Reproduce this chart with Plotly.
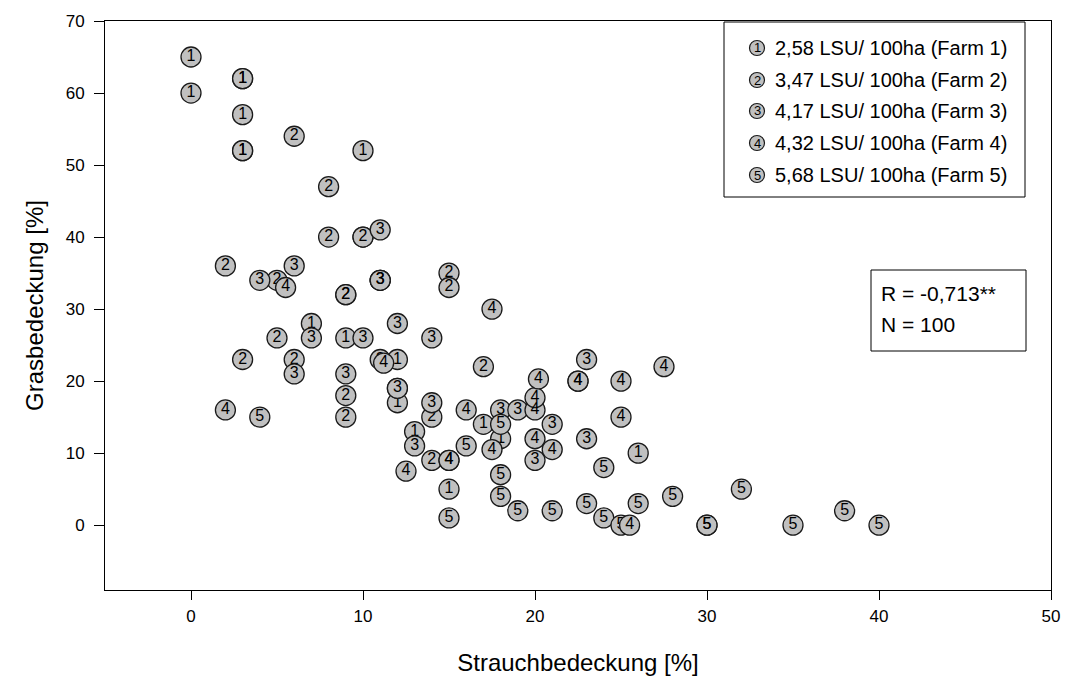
import plotly.graph_objects as go

# ---- data ----
farm1_x = [0, 0, 3, 3, 3, 3, 3, 10, 10, 11, 7, 9, 12, 12, 13, 17, 18, 15, 26]
farm1_y = [65, 60, 62, 62, 57, 52, 52, 52, 40, 34, 28, 26, 23, 17, 13, 14, 12, 5, 10]

farm2_x = [6, 8, 8, 10, 2, 5, 9, 9, 15, 15, 5, 3, 6, 11, 17, 12, 9, 9, 14, 14]
farm2_y = [54, 47, 40, 40, 36, 34, 32, 32, 35, 33, 26, 23, 23, 23, 22, 19, 18, 15, 15, 9]

farm3_x = [11, 6, 4, 11, 11, 7, 10, 12, 14, 6, 9, 12, 14, 13, 18, 19, 21, 20, 23, 23]
farm3_y = [41, 36, 34, 34, 34, 26, 26, 28, 26, 21, 21, 19, 17, 11, 16, 16, 14, 9, 23, 12]

farm4_x = [5.5, 11.2, 2, 16, 17.5, 20, 20, 20.2, 22.5, 22.5, 25, 25, 27.5, 20, 21, 17.5, 15, 15, 12.5, 25.5]
farm4_y = [33, 22.5, 16, 16, 30, 16, 17.7, 20.3, 20, 20, 20, 15, 22, 12, 10.5, 10.5, 9, 9, 7.5, 0]

farm5_x = [4, 18, 16, 15, 18, 18, 19, 21, 23, 24, 24, 26, 28, 32, 25, 30, 30, 35, 38, 40]
farm5_y = [15, 14, 11, 1, 7, 4, 2, 2, 3, 1, 8, 3, 4, 5, 0, 0, 0, 0, 2, 0]

farm_labels = ["1", "2", "3", "4", "5"]
legend_texts = [
    "2,58 LSU/ 100ha (Farm 1)",
    "3,47 LSU/ 100ha (Farm 2)",
    "4,17 LSU/ 100ha (Farm 3)",
    "4,32 LSU/ 100ha (Farm 4)",
    "5,68 LSU/ 100ha (Farm 5)",
]
stats_lines = ["R = -0,713**", "N = 100"]

x_ticks = [0, 10, 20, 30, 40, 50]
y_ticks = [0, 10, 20, 30, 40, 50, 60, 70]

# ---- style ----
FONT = "Liberation Sans, Arial, sans-serif"
FILL = "#c0c0c0"
EDGE = "#1a1a1a"

W, H = 1066, 686
L, R, T, B = 105, 15, 21, 96
PW, PH = W - L - R, H - T - B


def px_to_paper(px, py):
    return (px - L) / PW, (H - B - py) / PH


fig = go.Figure()

series = [
    (farm1_x, farm1_y, "1"),
    (farm2_x, farm2_y, "2"),
    (farm3_x, farm3_y, "3"),
    (farm5_x, farm5_y, "5"),
    (farm4_x, farm4_y, "4"),
]
for xs, ys, lab in series:
    fig.add_trace(go.Scatter(
        x=xs, y=ys, mode="markers+text",
        text=[lab] * len(xs), textposition="middle center",
        textfont=dict(family=FONT, size=16, color="black"),
        marker=dict(symbol="circle", size=20, color=FILL,
                    line=dict(color=EDGE, width=1.3)),
        showlegend=False, hoverinfo="x+y", cliponaxis=False,
    ))

shapes = []
annotations = []

# legend box
lx0, ly0 = px_to_paper(724, 22)
lx1, ly1 = px_to_paper(1025, 197)
shapes.append(dict(type="rect", xref="paper", yref="paper",
                   x0=lx0, y0=ly1, x1=lx1, y1=ly0,
                   line=dict(color="black", width=1), fillcolor="white"))
row_y = [48, 80, 111, 143, 175]
for lab, txt, ry in zip(farm_labels, legend_texts, row_y):
    cx, cy = px_to_paper(757, ry)
    shapes.append(dict(type="circle", xref="paper", yref="paper",
                       xsizemode="pixel", ysizemode="pixel",
                       xanchor=cx, yanchor=cy, x0=-7.5, x1=7.5, y0=-7.5, y1=7.5,
                       fillcolor=FILL, line=dict(color=EDGE, width=1.2)))
    annotations.append(dict(xref="paper", yref="paper", x=cx, y=cy,
                            text=lab, showarrow=False, xanchor="center",
                            yanchor="middle",
                            font=dict(family=FONT, size=13, color="black")))
    tx, ty = px_to_paper(773, ry)
    annotations.append(dict(xref="paper", yref="paper", x=tx, y=ty,
                            text=txt, showarrow=False, xanchor="left",
                            yanchor="middle",
                            font=dict(family=FONT, size=20, color="black")))

# stats box
sx0, sy0 = px_to_paper(871, 270)
sx1, sy1 = px_to_paper(1026, 351)
shapes.append(dict(type="rect", xref="paper", yref="paper",
                   x0=sx0, y0=sy1, x1=sx1, y1=sy0,
                   line=dict(color="black", width=1), fillcolor="white"))
for line_txt, ry in zip(stats_lines, [293, 324]):
    tx, ty = px_to_paper(879, ry)
    annotations.append(dict(xref="paper", yref="paper", x=tx, y=ty,
                            text=line_txt, showarrow=False, xanchor="left",
                            yanchor="middle",
                            font=dict(family=FONT, size=21, color="black")))

fig.update_layout(
    width=W, height=H,
    margin=dict(l=L, r=R, t=T, b=B, pad=0),
    paper_bgcolor="white", plot_bgcolor="white",
    font=dict(family=FONT, color="black"),
    shapes=shapes, annotations=annotations,
    xaxis=dict(
        range=[-5, 50], tickvals=x_ticks, ticktext=[str(v) for v in x_ticks],
        showgrid=False, zeroline=False, showline=True, mirror=True,
        linecolor="black", linewidth=1, ticks="outside", ticklen=9,
        tickcolor="black", tickfont=dict(family=FONT, size=17),
        ticklabelstandoff=2, automargin=False,
        title=dict(text="Strauchbedeckung [%]", standoff=28,
                   font=dict(family=FONT, size=24)),
    ),
    yaxis=dict(
        range=[-9, 70], tickvals=y_ticks, ticktext=[str(v) for v in y_ticks],
        showgrid=False, zeroline=False, showline=True, mirror=True,
        linecolor="black", linewidth=1, ticks="outside", ticklen=10,
        tickcolor="black", tickfont=dict(family=FONT, size=17),
        ticklabelstandoff=6, automargin=False,
        title=dict(text="Grasbedeckung [%]", standoff=15,
                   font=dict(family=FONT, size=24)),
    ),
)

fig.write_html(
    "out.html",
    config={"displayModeBar": False},
    post_script="document.body.style.margin='0';document.body.style.padding='0';",
)
